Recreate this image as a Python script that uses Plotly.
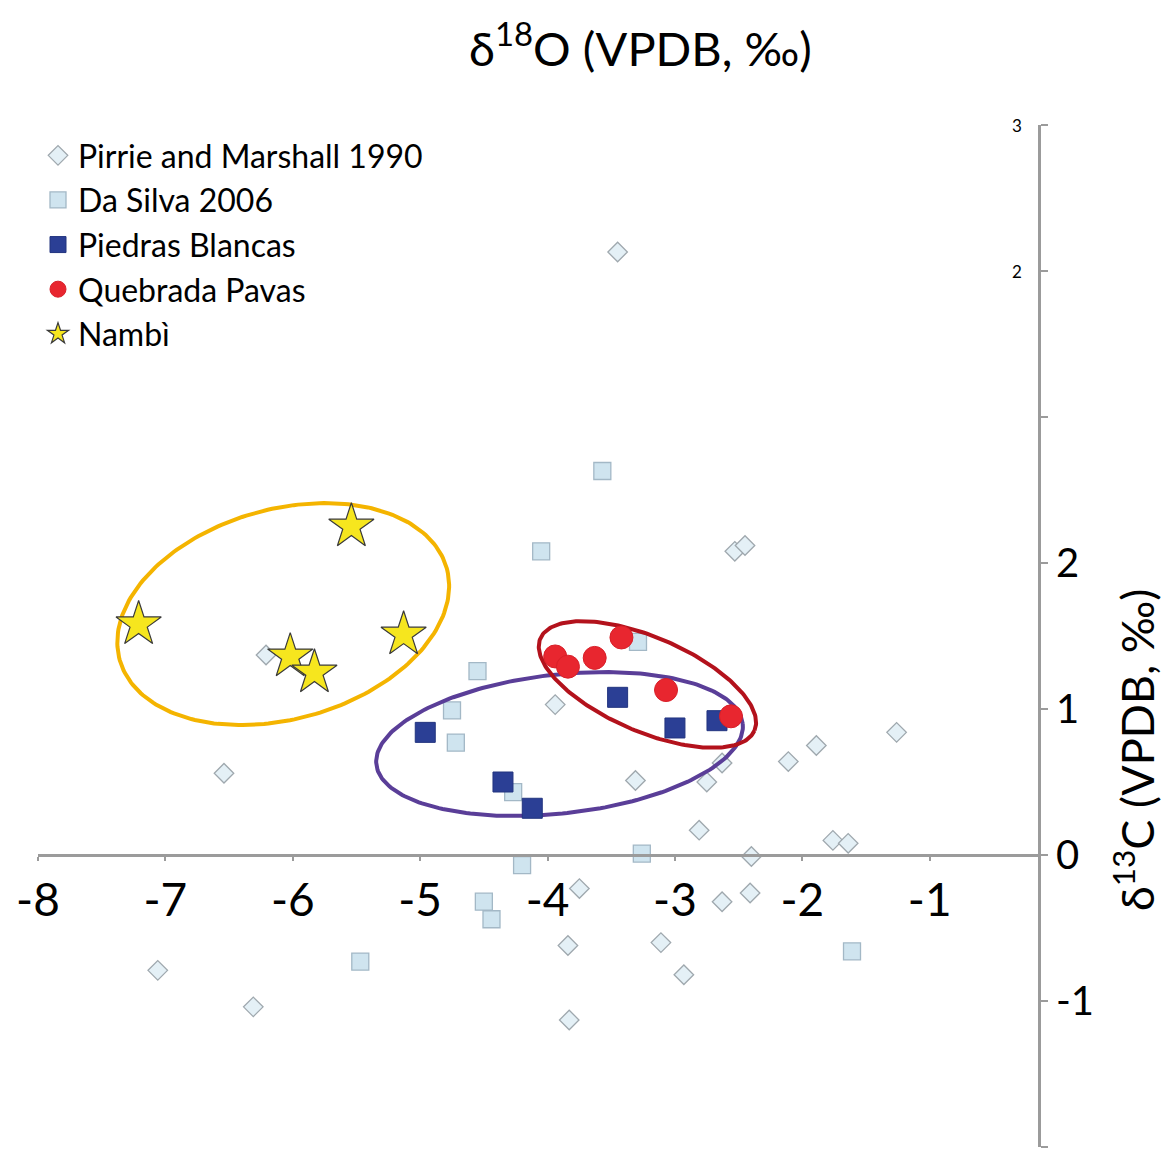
import numpy as np
import plotly.graph_objects as go

# Carbonate stable isotope data (d18O, d13C; VPDB, per mil)
pirrie_d18o = [-3.45, -2.53, -2.45, -6.21, -3.94, -6.54, -3.31, -2.75, -2.63, -2.81,
               -2.11, -1.89, -1.26, -1.76, -1.64, -2.40, -3.75, -2.63, -2.41, -3.84,
               -3.11, -2.93, -7.06, -6.31, -3.83]
pirrie_d13c = [4.13, 2.08, 2.12, 1.37, 1.03, 0.56, 0.51, 0.50, 0.63, 0.17,
               0.64, 0.75, 0.84, 0.10, 0.08, -0.01, -0.23, -0.32, -0.26, -0.62,
               -0.60, -0.82, -0.79, -1.04, -1.13]

dasilva_d18o = [-3.57, -4.05, -4.55, -3.29, -4.75, -4.72, -4.27, -4.20, -3.26, -4.50,
                -4.44, -5.47, -1.61]
dasilva_d13c = [2.63, 2.08, 1.26, 1.46, 0.99, 0.77, 0.43, -0.07, 0.01, -0.32,
                -0.44, -0.73, -0.66]

piedras_d18o = [-4.96, -3.45, -3.00, -2.67, -4.35, -4.12]
piedras_d13c = [0.84, 1.08, 0.87, 0.92, 0.50, 0.32]

pavas_d18o = [-3.94, -3.84, -3.63, -3.42, -3.07, -2.56]
pavas_d13c = [1.36, 1.29, 1.35, 1.49, 1.13, 0.95]

nambi_d18o = [-5.54, -7.21, -5.13, -6.02, -5.83]
nambi_d13c = [2.25, 1.58, 1.51, 1.36, 1.25]

# Field envelopes: centre (d18O, d13C), semi-axes in d18O units, tilt in degrees
envelope_nambi = dict(cx=-6.075, cy=1.65, a=1.333, b=0.823, tilt=15.7)
envelope_piedras = dict(cx=-3.906, cy=0.760, a=1.447, b=0.545, tilt=6.35)
envelope_pavas = dict(cx=-3.216, cy=1.168, a=0.915, b=0.37, tilt=-23.3)

y_tick_vals = [-2, -1, 0, 1, 2, 3, 4, 5]
y_tick_text = ["", "-1", "0", "1", "2", "", "", ""]
x_tick_vals = [-8, -7, -6, -5, -4, -3, -2, -1]
x_tick_text = ["-8", "-7", "-6", "-5", "-4", "-3", "-2", "-1"]

X_RANGE = [-8, -0.15]
Y_RANGE = [-2, 5]
PX_PER_X = 127.5
PX_PER_Y = 146.0

FONT = "Lato"
AXIS_GREY = "#9b9b9b"


def ellipse(cx, cy, a, b, tilt):
    t = np.linspace(0, 2 * np.pi, 241)
    th = np.radians(tilt)
    dx = a * np.cos(t) * np.cos(th) - b * np.sin(t) * np.sin(th)
    dy = (a * np.cos(t) * np.sin(th) + b * np.sin(t) * np.cos(th)) * PX_PER_X / PX_PER_Y
    return cx + dx, cy + dy


fig = go.Figure()

fig.add_trace(go.Scatter(
    x=pirrie_d18o, y=pirrie_d13c, mode="markers", name="Pirrie and Marshall 1990",
    legendgroup="g1",
    marker=dict(symbol="diamond", size=15, color="#e4f0f6",
                line=dict(color="#9fa8ae", width=1.3))))

fig.add_trace(go.Scatter(
    x=dasilva_d18o, y=dasilva_d13c, mode="markers", name="Da Silva 2006",
    legendgroup="g2",
    marker=dict(symbol="square", size=17, color="#cfe4ef",
                line=dict(color="#a3b8c6", width=1.3))))

for env, col in [(envelope_nambi, "#f4b400"), (envelope_piedras, "#5a3e98"),
                 (envelope_pavas, "#b3121c")]:
    ex, ey = ellipse(**env)
    fig.add_trace(go.Scatter(x=ex, y=ey, mode="lines", showlegend=False,
                             hoverinfo="skip", line=dict(color=col, width=4)))

fig.add_trace(go.Scatter(
    x=piedras_d18o, y=piedras_d13c, mode="markers", name="Piedras Blancas",
    legendgroup="g3",
    marker=dict(symbol="square", size=20, color="#2b3f95",
                line=dict(color="#22347f", width=1))))

fig.add_trace(go.Scatter(
    x=pavas_d18o, y=pavas_d13c, mode="markers", name="Quebrada Pavas",
    legendgroup="g4",
    marker=dict(symbol="circle", size=23, color="#e8262f",
                line=dict(color="#d81f28", width=1))))

fig.add_trace(go.Scatter(
    x=nambi_d18o, y=nambi_d13c, mode="markers", name="Nambì",
    legendgroup="g5",
    marker=dict(symbol="star", size=34, color="#f6e61e",
                line=dict(color="#3a3a3a", width=1.2))))

fig.update_layout(
    width=1170, height=1149,
    margin=dict(l=38, r=132, t=125, b=2),
    paper_bgcolor="white", plot_bgcolor="white",
    font=dict(family=FONT, color="black"),
    showlegend=True,
    legend=dict(x=0.0, y=0.997, xanchor="left", yanchor="top",
                font=dict(size=32, family=FONT, color="black"),
                bgcolor="rgba(0,0,0,0)", tracegroupgap=0,
                itemsizing="trace"),
    xaxis=dict(range=X_RANGE, anchor="free", position=(0 - Y_RANGE[0]) / (Y_RANGE[1] - Y_RANGE[0]),
               showline=True, linecolor=AXIS_GREY, linewidth=3,
               ticks="outside", ticklen=4, tickwidth=2, tickcolor=AXIS_GREY,
               tickvals=x_tick_vals, ticktext=x_tick_text,
               tickfont=dict(size=46, family=FONT),
               showgrid=False, zeroline=False),
    yaxis=dict(range=Y_RANGE, side="right", showline=True, linecolor=AXIS_GREY,
               linewidth=3, ticks="outside", ticklen=7, tickwidth=2,
               tickcolor=AXIS_GREY, tickvals=y_tick_vals, ticktext=y_tick_text,
               tickfont=dict(size=40, family=FONT),
               showgrid=False, zeroline=False),
)

# Axis titles
fig.add_annotation(text="δ<sup>18</sup>O (VPDB, ‰)", xref="paper", yref="paper",
                   x=0.602, y=1.078, showarrow=False, xanchor="center", yanchor="middle",
                   font=dict(size=47, family=FONT, color="black"))
fig.add_annotation(text="δ<sup>13</sup>C (VPDB, ‰)", xref="paper", yref="paper",
                   x=1.096, y=(1147 - 750) / 1022, showarrow=False, textangle=-90,
                   xanchor="center", yanchor="middle",
                   font=dict(size=45, family=FONT, color="black"))

# Small labels on the upper part of the d13C axis
for val, txt in [(5, "3"), (4, "2")]:
    fig.add_annotation(text=txt, xref="paper", yref="y", x=1.0, y=val,
                       xanchor="right", yanchor="middle", xshift=-14, showarrow=False,
                       font=dict(size=17, family=FONT, color="black"))

fig.write_html("out.html")
